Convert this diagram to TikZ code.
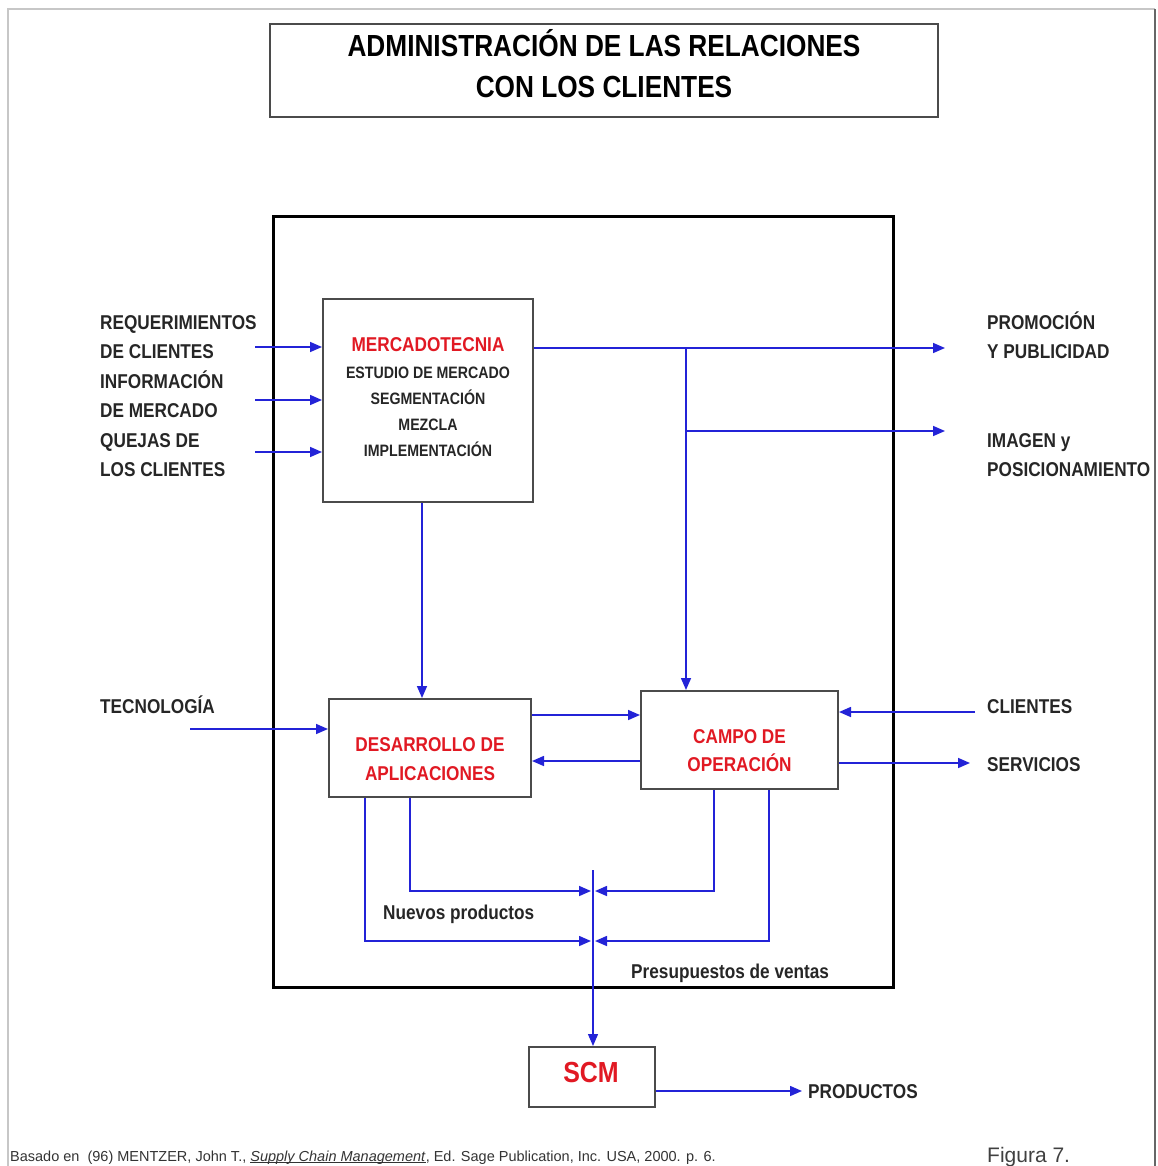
\documentclass[tikz,border=0pt]{standalone}
\usepackage{fontspec}
\setmainfont{Liberation Sans}[FakeStretch=0.86]
\newfontfamily\plainfont{Liberation Sans}
\usetikzlibrary{arrows.meta,calc}
\definecolor{flowblue}{RGB}{35,35,215}
\definecolor{headred}{RGB}{225,25,35}
\definecolor{edgegray}{RGB}{75,75,75}
% underline drawn close to the baseline, through the descenders
\newcommand{\srcunderline}[1]{\setbox0=\hbox{#1}\rlap{\rule[-1.6pt]{\wd0}{0.9pt}}\box0}
\begin{document}
\begin{tikzpicture}[x=1pt,y=-1pt,
  box/.style={draw=edgegray,line width=2pt,fill=white,inner sep=0pt},
  flow/.style={draw=flowblue,line width=1.6pt,-{Triangle[length=12pt,width=10pt]}},
  lab/.style={font=\fontsize{20}{24}\selectfont\bfseries,text=black!85,inner sep=0pt,anchor=base west},
  inlab/.style={font=\fontsize{16.5}{20}\selectfont\bfseries,text=black!85,inner sep=0pt,anchor=base},
  redlab/.style={font=\fontsize{20}{24}\selectfont\bfseries,text=headred,inner sep=0pt,anchor=base},
  titletext/.style={font=\fontsize{30.5}{34}\selectfont\bfseries,inner sep=0pt,anchor=base}
]
\path[use as bounding box] (0,0) rectangle (1157,1166);
% page frame
\draw[black!22,line width=1.5pt] (8,1166) -- (8,9) -- (1155,9);
\draw[black!60,line width=1.5pt] (1155,9) -- (1155,1166);

% title
\node[box,minimum width=668pt,minimum height=93pt] (title) at (604,70.5) {};
\node[titletext] (t1) at (604,57) {ADMINISTRACIÓN DE LAS RELACIONES};
\node[titletext] (t2) at (604,98) {CON LOS CLIENTES};

% outer system boundary
\node[draw=black,line width=3pt,minimum width=620pt,minimum height=770pt,inner sep=0pt] (crm) at (583,602) {};

% inner blocks
\node[box,minimum width=210pt,minimum height=203pt] (merc) at (428,400.5) {};
\node[redlab] (m0) at (428,351) {MERCADOTECNIA};
\node[inlab] (m1) at (428,378) {ESTUDIO DE MERCADO};
\node[inlab] (m2) at (428,404) {SEGMENTACIÓN};
\node[inlab] (m3) at (428,430) {MEZCLA};
\node[inlab] (m4) at (428,456) {IMPLEMENTACIÓN};

\node[box,minimum width=202pt,minimum height=98pt] (des) at (430,748) {};
\node[redlab] (d0) at (430,751) {DESARROLLO DE};
\node[redlab] (d1t) at (430,780) {APLICACIONES};

\node[box,minimum width=197pt,minimum height=98pt] (campo) at (739.5,740) {};
\node[redlab] (c0) at (739.5,743) {CAMPO DE};
\node[redlab] (c1t) at (739.5,771) {OPERACIÓN};

\node[box,minimum width=126pt,minimum height=60pt] (scm) at (592,1077) {};
\node[redlab,font=\fontsize{29}{32}\selectfont\bfseries] (s0) at (591,1082) {SCM};

% outside labels
\node[lab] (l1) at (100,329) {REQUERIMIENTOS};
\node[lab] (l2) at (100,358) {DE CLIENTES};
\node[lab] (l3) at (100,388) {INFORMACIÓN};
\node[lab] (l4) at (100,417) {DE MERCADO};
\node[lab] (l5) at (100,447) {QUEJAS DE};
\node[lab] (l6) at (100,476) {LOS CLIENTES};
\node[lab] (l7) at (100,713) {TECNOLOGÍA};

\node[lab] (r1) at (987,329) {PROMOCIÓN};
\node[lab] (r2) at (987,358) {Y PUBLICIDAD};
\node[lab] (r3) at (987,447) {IMAGEN y};
\node[lab] (r4) at (987,476) {POSICIONAMIENTO};
\node[lab] (r5) at (987,713) {CLIENTES};
\node[lab] (r6) at (987,771) {SERVICIOS};
\node[lab] (r7) at (808,1098) {PRODUCTOS};

\node[lab] (np) at (383,919) {Nuevos productos};
\node[lab] (pv) at (631,978) {Presupuestos de ventas};

% inputs to marketing
\coordinate (rq) at (255,347);
\coordinate (im) at (255,400);
\coordinate (qj) at (255,452);
\draw[flow] (rq) -- (rq -| merc.west);
\draw[flow] (im) -- (im -| merc.west);
\draw[flow] (qj) -- (qj -| merc.west);

% marketing outputs
\coordinate (pp) at (945,348);
\coordinate (br) at (686,348);
\coordinate (ip) at (945,431);
\draw[flow] (merc.east |- pp) -- (pp);
\draw[flow] (br) -- (br |- campo.north);
\draw[flow] (br |- ip) -- (ip);
\coordinate (mx) at ($(merc.south west)+(100,0)$);
\draw[flow] (mx) -- (mx |- des.north);

% technology, field exchanges
\coordinate (tc) at (190,729);
\draw[flow] (tc) -- (tc -| des.west);
\coordinate (dc) at (0,715);
\coordinate (cd) at (0,761);
\draw[flow] (des.east |- dc) -- (campo.west |- dc);
\draw[flow] (campo.west |- cd) -- (des.east |- cd);
\coordinate (cl) at (975,712);
\coordinate (sv) at (970,763);
\draw[flow] (cl) -- (cl -| campo.east);
\draw[flow] (campo.east |- sv) -- (sv);

% collection towards SCM
\coordinate (jt) at (593,870);
\draw[flow,line width=1.3pt] (jt) -- (jt |- scm.north);
\coordinate (nl) at (591,891);
\coordinate (nr) at (595,891);
\coordinate (vl) at (591,941);
\coordinate (vr) at (595,941);
\coordinate (da) at ($(des.south west)+(37,0)$);
\coordinate (db) at ($(des.south west)+(82,0)$);
\coordinate (ca) at ($(campo.south west)+(74,0)$);
\coordinate (cb) at ($(campo.south west)+(129,0)$);
\draw[flow] (da) |- (vl);
\draw[flow] (db) |- (nl);
\draw[flow] (ca) |- (nr);
\draw[flow] (cb) |- (vr);

\coordinate (pr) at (802,1091);
\draw[flow] (scm.east |- pr) -- (pr);

% source line
\node[anchor=base west,inner sep=0pt,text=black!80,font=\plainfont\fontsize{14.5}{16}\selectfont] (src) at (10,1161.5)
  {Basado en\ \ (96) MENTZER, John T., \srcunderline{\textit{Supply Chain Management}}, Ed. Sage Publication, Inc. USA, 2000. p. 6.};
\node[anchor=base west,inner sep=0pt,text=black!75,font=\plainfont\fontsize{21}{24}\selectfont] (fig) at (987,1162) {Figura 7.};
\end{tikzpicture}
\end{document}
